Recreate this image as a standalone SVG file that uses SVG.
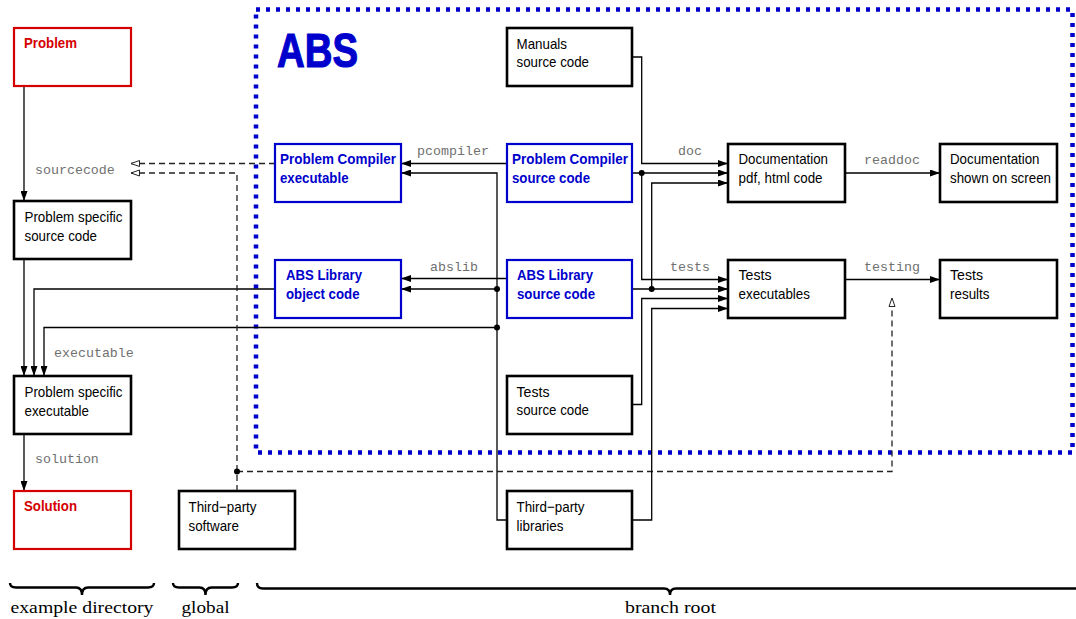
<svg xmlns="http://www.w3.org/2000/svg" width="1076" height="619" viewBox="0 0 1076 619">
<style>
.b{fill:#fff;stroke:#000;stroke-width:2.6}
.r{fill:#fff;stroke:#d40000;stroke-width:2.2}
.u{fill:#fff;stroke:#0000cc;stroke-width:2.2}
.t{font-family:"Liberation Sans",Arial,sans-serif;font-size:15px;fill:#000}
.tb{font-weight:bold;fill:#0000cc}
.tr{font-weight:bold;fill:#d40000}
.lbl{font-family:"Liberation Mono","Courier New",monospace;font-size:13.3px;fill:#707070}
.c{fill:none;stroke:#000;stroke-width:1.3}
.d{fill:none;stroke:#222;stroke-width:1.3;stroke-dasharray:6 4}
.dot{fill:#000}
.br{fill:none;stroke:#000;stroke-width:2.4}
.s{font-family:"Liberation Serif","Times New Roman",serif;font-size:17.5px;fill:#000}
</style>
<defs>
<marker id="a" viewBox="0 0 10 7" refX="10" refY="3.5" markerWidth="10" markerHeight="7" orient="auto" markerUnits="userSpaceOnUse"><path d="M0,0 L10,3.5 L0,7 z" fill="#000"/></marker>
<marker id="o" viewBox="0 0 10 8" refX="9.5" refY="4" markerWidth="10" markerHeight="8" orient="auto" markerUnits="userSpaceOnUse"><path d="M1,1 L9.5,4 L1,7 z" fill="#fff" stroke="#222" stroke-width="1"/></marker>
</defs>
<rect width="1076" height="619" fill="#fff"/>

<g id="abs-area">
<rect x="256" y="9.5" width="816.5" height="443" fill="none" stroke="#0000cc" stroke-width="4.5" stroke-dasharray="4 6"/>
<text x="277" y="67" font-family="'Liberation Sans',Arial,sans-serif" font-weight="bold" font-size="48" fill="#0000cc" stroke="#0000cc" stroke-width="1.2" textLength="81" lengthAdjust="spacingAndGlyphs">ABS</text>
</g>

<g id="connectors">
<path class="c" d="M24,86 V201" marker-end="url(#a)"/>
<path class="c" d="M24,259 V376" marker-end="url(#a)"/>
<path class="c" d="M275,289 H34 V376" marker-end="url(#a)"/>
<path class="c" d="M507,520 H497 V173 H401" marker-end="url(#a)"/>
<path class="c" d="M497,289 H401" marker-end="url(#a)"/>
<path class="c" d="M497,327.5 H44 V376" marker-end="url(#a)"/>
<circle class="dot" cx="497" cy="289" r="3"/>
<circle class="dot" cx="497" cy="327.5" r="3"/>
<path class="c" d="M507,163.5 H401" marker-end="url(#a)"/>
<path class="c" d="M507,278.5 H401" marker-end="url(#a)"/>
<path class="c" d="M24,434 V491" marker-end="url(#a)"/>
<path class="d" d="M275,163.5 H131" marker-end="url(#o)"/>
<path class="d" d="M237,491 V173 H131" marker-end="url(#o)"/>
<path class="d" d="M237,471.5 H892 V298" marker-end="url(#o)"/>
<circle class="dot" cx="237" cy="471.5" r="3"/>
<path class="c" d="M632,57 H641.7 V163.5 H728" marker-end="url(#a)"/>
<path class="c" d="M632,173 H728" marker-end="url(#a)"/>
<path class="c" d="M641.7,173 V279.5 H728" marker-end="url(#a)"/>
<circle class="dot" cx="641.7" cy="173" r="3"/>
<path class="c" d="M632,289 H728" marker-end="url(#a)"/>
<path class="c" d="M651.7,289 V183 H728" marker-end="url(#a)"/>
<circle class="dot" cx="651.7" cy="289" r="3"/>
<path class="c" d="M632,404.5 H641.7 V298.5 H728" marker-end="url(#a)"/>
<path class="c" d="M632,520 H651.7 V308.5 H728" marker-end="url(#a)"/>
<path class="c" d="M845,173 H940" marker-end="url(#a)"/>
<path class="c" d="M845,279.5 H940" marker-end="url(#a)"/>
<text class="lbl" x="35" y="174">sourcecode</text>
<text class="lbl" x="453" y="155" text-anchor="middle">pcompiler</text>
<text class="lbl" x="454" y="270.5" text-anchor="middle">abslib</text>
<text class="lbl" x="690" y="155" text-anchor="middle">doc</text>
<text class="lbl" x="690" y="270.5" text-anchor="middle">tests</text>
<text class="lbl" x="892" y="164" text-anchor="middle">readdoc</text>
<text class="lbl" x="892" y="270.5" text-anchor="middle">testing</text>
<text class="lbl" x="54" y="356.5">executable</text>
<text class="lbl" x="35" y="463">solution</text>
</g>

<g id="problem"><rect class="r" x="14" y="28" width="117" height="58"/><text class="t tr" x="24" y="47.5" textLength="53" lengthAdjust="spacingAndGlyphs">Problem</text></g>
<g id="ps-source"><rect class="b" x="14" y="201" width="117" height="58"/><text class="t" x="24.5" y="221.5" textLength="98" lengthAdjust="spacingAndGlyphs">Problem specific</text><text class="t" x="24.5" y="240.5" textLength="72.5" lengthAdjust="spacingAndGlyphs">source code</text></g>
<g id="ps-exec"><rect class="b" x="14" y="376" width="117" height="58"/><text class="t" x="24.5" y="396.5" textLength="98" lengthAdjust="spacingAndGlyphs">Problem specific</text><text class="t" x="24.5" y="415.5" textLength="64.5" lengthAdjust="spacingAndGlyphs">executable</text></g>
<g id="solution"><rect class="r" x="14" y="491" width="117" height="58"/><text class="t tr" x="24" y="510.5" textLength="53" lengthAdjust="spacingAndGlyphs">Solution</text></g>
<g id="tp-software"><rect class="b" x="179" y="491" width="116" height="58"/><text class="t" x="188.5" y="511.5" textLength="68" lengthAdjust="spacingAndGlyphs">Third−party</text><text class="t" x="188.5" y="530.5" textLength="50.5" lengthAdjust="spacingAndGlyphs">software</text></g>

<g id="manuals"><rect class="b" x="507" y="28" width="125" height="58"/><text class="t" x="516.5" y="48.5" textLength="50.5" lengthAdjust="spacingAndGlyphs">Manuals</text><text class="t" x="516.5" y="67" textLength="72.5" lengthAdjust="spacingAndGlyphs">source code</text></g>
<g id="pc-exec"><rect class="u" x="275" y="144" width="126" height="58"/><text class="t tb" x="280" y="163.5" textLength="116" lengthAdjust="spacingAndGlyphs">Problem Compiler</text><text class="t tb" x="280" y="182.5" textLength="68.5" lengthAdjust="spacingAndGlyphs">executable</text></g>
<g id="pc-source"><rect class="u" x="507" y="144" width="125" height="58"/><text class="t tb" x="512" y="163.5" textLength="116" lengthAdjust="spacingAndGlyphs">Problem Compiler</text><text class="t tb" x="512" y="182.5" textLength="78" lengthAdjust="spacingAndGlyphs">source code</text></g>
<g id="abs-obj"><rect class="u" x="275" y="260" width="126" height="58"/><text class="t tb" x="286" y="279.5" textLength="76" lengthAdjust="spacingAndGlyphs">ABS Library</text><text class="t tb" x="286" y="298.5" textLength="73.5" lengthAdjust="spacingAndGlyphs">object code</text></g>
<g id="abs-source"><rect class="u" x="507" y="260" width="125" height="58"/><text class="t tb" x="517" y="279.5" textLength="76" lengthAdjust="spacingAndGlyphs">ABS Library</text><text class="t tb" x="517" y="298.5" textLength="78" lengthAdjust="spacingAndGlyphs">source code</text></g>
<g id="tests-source"><rect class="b" x="507" y="376" width="125" height="58"/><text class="t" x="516.5" y="396.5" textLength="33" lengthAdjust="spacingAndGlyphs">Tests</text><text class="t" x="516.5" y="415" textLength="72.5" lengthAdjust="spacingAndGlyphs">source code</text></g>
<g id="tp-libs"><rect class="b" x="507" y="491" width="125" height="58"/><text class="t" x="516.5" y="511.5" textLength="68" lengthAdjust="spacingAndGlyphs">Third−party</text><text class="t" x="516.5" y="530.5" textLength="47" lengthAdjust="spacingAndGlyphs">libraries</text></g>
<g id="doc-pdf"><rect class="b" x="728" y="144" width="117" height="58"/><text class="t" x="738.5" y="163.5" textLength="89.5" lengthAdjust="spacingAndGlyphs">Documentation</text><text class="t" x="738.5" y="182.5" textLength="84" lengthAdjust="spacingAndGlyphs">pdf, html code</text></g>
<g id="doc-screen"><rect class="b" x="940" y="144" width="117" height="58"/><text class="t" x="950" y="163.5" textLength="89.5" lengthAdjust="spacingAndGlyphs">Documentation</text><text class="t" x="950" y="182.5" textLength="101" lengthAdjust="spacingAndGlyphs">shown on screen</text></g>
<g id="tests-exec"><rect class="b" x="728" y="260" width="117" height="58"/><text class="t" x="738.5" y="279.5" textLength="33" lengthAdjust="spacingAndGlyphs">Tests</text><text class="t" x="738.5" y="298.5" textLength="71.5" lengthAdjust="spacingAndGlyphs">executables</text></g>
<g id="tests-results"><rect class="b" x="940" y="260" width="117" height="58"/><text class="t" x="950" y="279.5" textLength="33" lengthAdjust="spacingAndGlyphs">Tests</text><text class="t" x="950" y="298.5" textLength="39.5" lengthAdjust="spacingAndGlyphs">results</text></g>

<g id="braces">
<path class="br" d="M10,583 Q10,587.5 16,587.5 L76,587.5 Q82,587.5 82,595 Q82,587.5 88,587.5 L148,587.5 Q154,587.5 154,583"/>
<path class="br" d="M173,583 Q173,587.5 179,587.5 L199.5,587.5 Q205.5,587.5 205.5,595 Q205.5,587.5 211.5,587.5 L232,587.5 Q238,587.5 238,583"/>
<path class="br" d="M257,583 Q257,588.5 263,588.5 L664,588.5 Q670,588.5 670,595 Q670,588.5 676,588.5 L1077,588.5 Q1083,588.5 1083,583"/>
<text class="s" x="82" y="613" text-anchor="middle" textLength="143" lengthAdjust="spacingAndGlyphs">example directory</text>
<text class="s" x="205.5" y="613" text-anchor="middle" textLength="48" lengthAdjust="spacingAndGlyphs">global</text>
<text class="s" x="670.5" y="613" text-anchor="middle" textLength="91" lengthAdjust="spacingAndGlyphs">branch root</text>
</g>
</svg>
